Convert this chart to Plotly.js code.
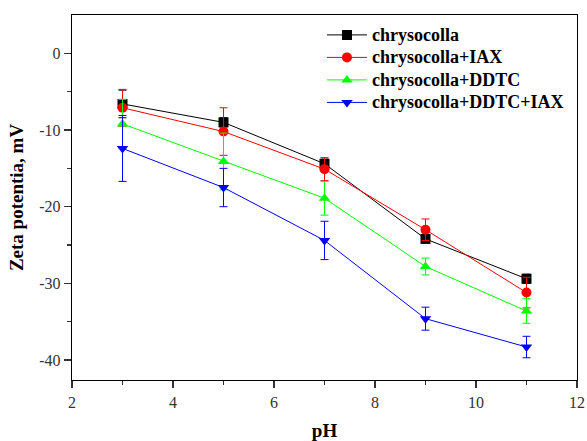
<!DOCTYPE html>
<html>
<head>
<meta charset="utf-8">
<script src="https://cdn.plot.ly/plotly-3.0.1.min.js"></script>
<style>
  html, body { margin: 0; padding: 0; background: #fff; }
  #chart { width: 587px; height: 441px; }
</style>
</head>
<body>
<div id="chart"></div>
<script>
// pH values at which zeta potential was measured
const pH = [3, 5, 7, 9, 11];

// Zeta potential (mV) and standard deviations for each system
const chrysocolla = [-6.6, -9.0, -14.4, -24.2, -29.4];
const chrysocollaErr = [1.8, 0.6, 0.6, 0.5, 0.6];

const chrysocollaIAX = [-7.1, -10.2, -15.1, -23.0, -31.2];
const chrysocollaIAXErr = [2.4, 3.1, 1.5, 1.4, 2.0];

const chrysocollaDDTC = [-9.2, -14.1, -18.9, -27.8, -33.6];
const chrysocollaDDTCErr = [3.2, 3.7, 2.2, 1.1, 1.6];

const chrysocollaDDTCIAX = [-12.4, -17.5, -24.4, -34.6, -38.3];
const chrysocollaDDTCIAXErr = [4.3, 2.5, 2.5, 1.5, 1.4];

// Axis tick positions and labels (plain hyphen for negatives)
const xTicks = [2, 4, 6, 8, 10, 12];
const xTickLabels = ['2', '4', '6', '8', '10', '12'];
const yTicks = [0, -10, -20, -30, -40];
const yTickLabels = ['0', '-10', '-20', '-30', '-40'];

const seriesNames = ['chrysocolla', 'chrysocolla+IAX', 'chrysocolla+DDTC', 'chrysocolla+DDTC+IAX'];
const seriesColors = ['#000000', '#ff0000', '#00ff00', '#0000ff'];
const seriesSymbols = ['square', 'circle', 'triangle-up', 'triangle-down'];
const seriesValues = [chrysocolla, chrysocollaIAX, chrysocollaDDTC, chrysocollaDDTCIAX];
const seriesErrors = [chrysocollaErr, chrysocollaIAXErr, chrysocollaDDTCErr, chrysocollaDDTCIAXErr];

const serif = 'Liberation Serif, Times New Roman, Times, serif';

// Legend rows are spaced from the legend font size; the entry text itself
// is drawn a little larger so the list stays compact.
const legendLabel = name => '<span style="font-size:18px">' + name + '</span>';

const traces = seriesNames.map((name, i) => ({
  type: 'scatter',
  mode: 'lines+markers',
  name: legendLabel(name),
  x: pH,
  y: seriesValues[i],
  line: { color: seriesColors[i], width: 1 },
  marker: { symbol: seriesSymbols[i], size: 10, color: seriesColors[i] },
  error_y: {
    type: 'data',
    array: seriesErrors[i],
    visible: true,
    color: seriesColors[i],
    thickness: 1,
    width: 4
  }
}));

const axisCommon = {
  showline: true,
  linecolor: '#000',
  linewidth: 1.3,
  mirror: true,
  ticks: 'outside',
  ticklen: 7,
  tickwidth: 1.2,
  tickcolor: '#333',
  showgrid: false,
  zeroline: false,
  tickfont: { family: serif, size: 16, color: '#333' }
};

const layout = {
  width: 587,
  height: 441,
  margin: { l: 72, r: 10, t: 15, b: 61 },
  paper_bgcolor: '#fff',
  plot_bgcolor: '#fff',
  showlegend: true,
  legend: {
    x: 0.495,
    y: 0.99,
    xanchor: 'left',
    yanchor: 'top',
    bgcolor: 'rgba(0,0,0,0)',
    font: { family: serif, size: 15, color: '#000', weight: 'bold' },
    itemwidth: 40,
    tracegroupgap: 0
  },
  xaxis: Object.assign({}, axisCommon, {
    range: [2, 12],
    tickmode: 'array',
    tickvals: xTicks,
    ticktext: xTickLabels,
    minor: { ticks: 'outside', ticklen: 3.5, tickvals: [3, 5, 7, 9, 11], tickcolor: '#333' },
    title: { text: 'pH', font: { family: serif, size: 19, color: '#000', weight: 'bold' }, standoff: 17 }
  }),
  yaxis: Object.assign({}, axisCommon, {
    range: [-42.6, 5],
    tickmode: 'array',
    tickvals: yTicks,
    ticktext: yTickLabels,
    minor: { ticks: 'outside', ticklen: 3.5, tickvals: [-5, -15, -25, -35], tickcolor: '#333' },
    title: { text: 'Zeta potentia, mV', font: { family: serif, size: 19, color: '#000', weight: 'bold' }, standoff: 10 }
  })
};

Plotly.newPlot('chart', traces, layout, { displayModeBar: false, staticPlot: true });
</script>
</body>
</html>
